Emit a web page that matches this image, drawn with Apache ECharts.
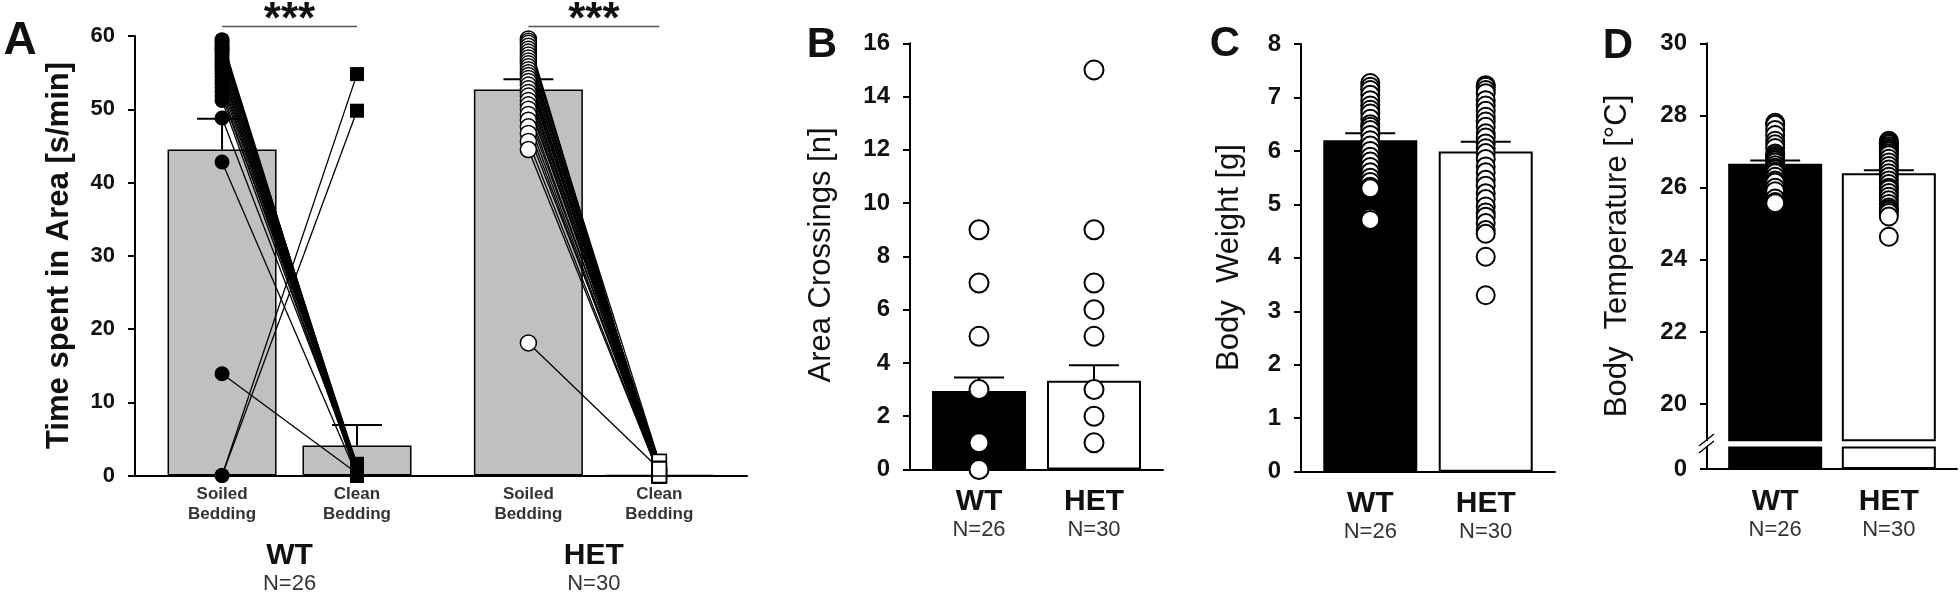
<!DOCTYPE html>
<html>
<head>
<meta charset="utf-8">
<style>
  html, body { margin: 0; padding: 0; background: #fff; }
  #chart { width: 1960px; height: 595px; }
</style>
<script src="https://cdn.jsdelivr.net/npm/echarts@6.0.0/dist/echarts.min.js"></script>
</head>
<body>
<div id="chart"></div>
<script>
var FONT = '"Liberation Sans", Arial, sans-serif'
var INK = '#111'

// ---- panel A: time spent in area (paired) ----
var posA = [1, 2, 3.27, 4.24]
var namesA = ['Soiled\nBedding', 'Clean\nBedding', 'Soiled\nBedding', 'Clean\nBedding']
var meanA = [44.5, 4.1, 52.7, 0]
var semA = [4.2, 2.8, 1.4, 0]
var groupPosA = [1.5, 3.755]
var groupNames = ['WT', 'HET']
var groupN = ['N=26', 'N=30']
var wtSoiled = [59.5, 59.2, 58.9, 58.6, 58.3, 58.0, 57.7, 57.3, 56.9, 56.5, 56.1, 55.7, 55.3,
  54.9, 54.5, 54.0, 53.5, 53.0, 52.4, 51.8, 51.2, 48.8, 42.8, 13.9, 0, 0]
var wtClean = [0.3, 0.8, 0, 1.2, 0.5, 0, 1.5, 0.2, 0.9, 0, 1.4, 0.6, 0,
  1.0, 0.4, 0, 1.3, 0.7, 0, 1.6, 0.2, 0.9, 0, 0.3, 54.8, 49.8]
var hetSoiled = [59.6, 59.3, 59.0, 58.6, 58.2, 57.8, 57.4, 57.0, 56.6, 56.2, 55.8, 55.4, 55.0, 54.6, 54.2,
  53.8, 53.3, 52.8, 52.3, 51.8, 51.2, 50.6, 50.0, 49.3, 48.5, 47.6, 46.7, 45.6, 44.5, 18.1]
var hetClean = [0, 0.4, 0, 1.9, 0, 0.6, 0, 1.2, 0, 0, 1.8, 0, 0.3, 0, 0,
  1.5, 0, 0, 0.8, 0, 0, 1.9, 0, 0.5, 0, 0, 1.0, 0, 0, 0.9]
var sigY = 61.3

// ---- panels B-D: WT vs HET ----
var posG = [1, 2]
var meanB = [2.95, 3.33], semB = [0.5, 0.58]
var crossWT = [9, 7, 5, 3, 1, 0]
var crossHET = [15, 9, 7, 6, 5, 3, 2, 1]

var meanC = [6.2, 5.99], semC = [0.13, 0.18]
var weightWT = [7.27, 7.2, 7.14, 7.05, 6.95, 6.85, 6.77, 6.7, 6.6, 6.5, 6.45, 6.39, 6.3, 6.2, 6.1, 6.0,
  5.89, 5.8, 5.7, 5.6, 5.5, 5.42, 5.33, 5.3, 4.75, 4.71]
var weightHET = [7.23, 7.2, 7.14, 7.08, 6.95, 6.85, 6.75, 6.64, 6.55, 6.45, 6.33, 6.25, 6.14, 6.05, 5.96,
  5.85, 5.71, 5.6, 5.46, 5.35, 5.21, 5.1, 4.96, 4.85, 4.77, 4.65, 4.52, 4.45, 4.02, 3.3]

var meanD = [26.66, 26.4], semD = [0.09, 0.08]
var tempWT = [27.8, 27.74, 27.6, 27.46, 27.3, 27.2, 27.1, 26.95, 26.9, 26.85, 26.8, 26.75, 26.7,
  26.62, 26.55, 26.5, 26.44, 26.4, 26.3, 26.2, 26.14, 26.0, 25.9, 25.7, 25.6, 25.57]
var tempHET = [27.3, 27.25, 27.23, 27.2, 27.15, 27.1, 27.05, 27.0, 26.95, 26.9, 26.8, 26.7, 26.6, 26.5, 26.4,
  26.3, 26.2, 26.1, 26.0, 25.95, 25.85, 25.75, 25.65, 25.55, 25.45, 25.4, 25.35, 25.3, 25.2, 24.64]

function nearest(arr, v) {
  var best = 0
  for (var i = 1; i < arr.length; i++) {
    if (Math.abs(arr[i] - v) < Math.abs(arr[best] - v)) best = i
  }
  return best
}

function errBar(params, api) {
  var x = api.value(0), m = api.value(1), s = api.value(2)
  if (!s) return
  var base = api.coord([x, m]), top = api.coord([x, m + s])
  var st = { stroke: '#000', lineWidth: 2 }
  return {
    type: 'group',
    children: [
      { type: 'line', shape: { x1: base[0], y1: base[1], x2: top[0], y2: top[1] }, style: st },
      { type: 'line', shape: { x1: top[0] - 25, y1: top[1], x2: top[0] + 25, y2: top[1] }, style: st }
    ]
  }
}

function sigBar(params, api) {
  var a = api.coord([api.value(0), api.value(2)])
  var b = api.coord([api.value(1), api.value(2)])
  return {
    type: 'group',
    children: [
      { type: 'line', shape: { x1: a[0], y1: a[1], x2: b[0], y2: b[1] },
        style: { stroke: '#555', lineWidth: 1.5 } },
      { type: 'text', x: (a[0] + b[0]) / 2, y: a[1] + 16,
        style: { text: '***', font: 'bold 44px ' + FONT, fill: INK, align: 'center', verticalAlign: 'bottom' } }
    ]
  }
}

function yAx(grid, min, max, interval, size, custom) {
  var ax = {
    type: 'value', gridIndex: grid, min: min, max: max,
    axisLine: { show: true, lineStyle: { color: '#000', width: 2 } },
    axisTick: { show: true, length: 7, lineStyle: { color: '#000', width: 2 } },
    axisLabel: { margin: 20, fontSize: size, fontWeight: 'bold', color: INK, fontFamily: FONT },
    splitLine: { show: false }
  }
  if (interval) ax.interval = interval
  if (custom) {
    ax.axisLabel.customValues = custom
    ax.axisTick.customValues = custom
  }
  return ax
}

var groupRich = {
  g: { fontSize: 30, fontWeight: 'bold', lineHeight: 30, color: INK, fontFamily: FONT },
  n: { fontSize: 22, lineHeight: 26, color: '#333', fontFamily: FONT }
}

function groupLabel(v) {
  var i = nearest(posG, v)
  return '{g|' + groupNames[i] + '}\n{n|' + groupN[i] + '}'
}

function xAxG(grid, showLabels) {
  return {
    type: 'value', gridIndex: grid, position: 'bottom', min: 0.4, max: 2.6, show: showLabels,
    axisLine: { show: true, onZero: false, lineStyle: { color: '#000', width: 2 } },
    axisTick: { show: false },
    splitLine: { show: false },
    axisLabel: { customValues: posG, margin: 17.5, formatter: groupLabel, rich: groupRich }
  }
}

function barItems(means) {
  return means.map(function (m, i) {
    return {
      value: [posG[i], m],
      itemStyle: i === 0
        ? { color: '#000', borderColor: '#000', borderWidth: 2 }
        : { color: '#fff', borderColor: '#000', borderWidth: 2 }
    }
  })
}

function pts(x, vals) {
  return vals.map(function (v) { return [x, v] })
}

function dots(xi, yi, data, size) {
  return {
    type: 'scatter', xAxisIndex: xi, yAxisIndex: yi, z: 4, data: data,
    symbol: 'circle', symbolSize: size,
    itemStyle: { color: '#fff', borderColor: '#000', borderWidth: 2, opacity: 1 }
  }
}

function errSeries(xi, yi, means, sems) {
  return {
    type: 'custom', xAxisIndex: xi, yAxisIndex: yi, z: 2, renderItem: errBar,
    data: means.map(function (m, i) { return [posG[i], m, sems[i]] })
  }
}

var chart = echarts.init(document.getElementById('chart'), null, { renderer: 'canvas' })

var option = {
  animation: false,
  backgroundColor: '#fff',
  textStyle: { fontFamily: FONT },
  grid: [
    { left: 135, top: 36, width: 612, height: 439.5, containLabel: false, outerBoundsMode: 'none' },
    { left: 910, top: 43.3, width: 253, height: 426.2, containLabel: false, outerBoundsMode: 'none' },
    { left: 1301, top: 44, width: 254, height: 427.7, containLabel: false, outerBoundsMode: 'none' },
    { left: 1707, top: 43.3, width: 250, height: 397, containLabel: false, outerBoundsMode: 'none' },
    { left: 1707, top: 447.5, width: 250, height: 21.5, containLabel: false, outerBoundsMode: 'none' }
  ],
  xAxis: [
    {
      type: 'value', gridIndex: 0, position: 'bottom', min: 0.355, max: 4.89,
      axisLine: { show: true, onZero: false, lineStyle: { color: '#000', width: 2 } },
      axisTick: { show: false }, splitLine: { show: false },
      axisLabel: {
        customValues: posA, margin: 8.5, fontSize: 17, fontWeight: 'bold', lineHeight: 20,
        color: '#333', fontFamily: FONT,
        formatter: function (v) { return namesA[nearest(posA, v)] }
      }
    },
    {
      type: 'value', gridIndex: 0, position: 'bottom', offset: 0, min: 0.355, max: 4.89,
      axisLine: { show: false, onZero: false }, axisTick: { show: false }, splitLine: { show: false },
      axisLabel: {
        customValues: groupPosA, margin: 65.5, rich: groupRich,
        formatter: function (v) {
          var i = nearest(groupPosA, v)
          return '{g|' + groupNames[i] + '}\n{n|' + groupN[i] + '}'
        }
      }
    },
    xAxG(1, true),
    xAxG(2, true),
    xAxG(3, false),
    xAxG(4, true)
  ],
  yAxis: [
    yAx(0, 0, 60, 10, 22),
    yAx(1, 0, 16, 2, 24),
    yAx(2, 0, 8, 1, 24),
    yAx(3, 19, 30, null, 24, [20, 22, 24, 26, 28, 30]),
    yAx(4, 0, 1, null, 24, [0])
  ],
  series: [
    // A
    {
      type: 'bar', xAxisIndex: 0, yAxisIndex: 0, z: 1, barWidth: 109,
      itemStyle: { color: '#c0c0c0', borderColor: '#000', borderWidth: 1.5 },
      data: posA.map(function (x, i) { return [x, meanA[i]] })
    },
    {
      type: 'custom', xAxisIndex: 0, yAxisIndex: 0, z: 2, renderItem: errBar,
      data: posA.map(function (x, i) { return [x, meanA[i], semA[i]] })
    },
    {
      type: 'lines', coordinateSystem: 'cartesian2d', xAxisIndex: 0, yAxisIndex: 0, z: 3,
      lineStyle: { color: '#000', width: 1.3, opacity: 1, curveness: 0 },
      data: wtSoiled.map(function (s, i) { return { coords: [[posA[0], s], [posA[1], wtClean[i]]] } })
        .concat(hetSoiled.map(function (s, i) { return { coords: [[posA[2], s], [posA[3], hetClean[i]]] } }))
    },
    {
      type: 'scatter', xAxisIndex: 0, yAxisIndex: 0, z: 4, symbol: 'circle', symbolSize: 15,
      itemStyle: { color: '#000', opacity: 1 }, data: pts(posA[0], wtSoiled)
    },
    {
      type: 'scatter', xAxisIndex: 0, yAxisIndex: 0, z: 4, symbol: 'rect', symbolSize: 14,
      itemStyle: { color: '#000', opacity: 1 }, data: pts(posA[1], wtClean)
    },
    {
      type: 'scatter', xAxisIndex: 0, yAxisIndex: 0, z: 4, symbol: 'circle', symbolSize: 16,
      itemStyle: { color: '#fff', borderColor: '#000', borderWidth: 1.5, opacity: 1 }, data: pts(posA[2], hetSoiled)
    },
    {
      type: 'scatter', xAxisIndex: 0, yAxisIndex: 0, z: 4, symbol: 'rect', symbolSize: 14,
      itemStyle: { color: '#fff', borderColor: '#000', borderWidth: 1.5, opacity: 1 }, data: pts(posA[3], hetClean)
    },
    {
      type: 'custom', xAxisIndex: 0, yAxisIndex: 0, z: 5, renderItem: sigBar,
      data: [[posA[0], posA[1], sigY], [posA[2], posA[3], sigY]]
    },
    // B
    { type: 'bar', xAxisIndex: 2, yAxisIndex: 1, z: 1, barWidth: 94, data: barItems(meanB) },
    errSeries(2, 1, meanB, semB),
    dots(2, 1, pts(posG[0], crossWT), 19),
    dots(2, 1, pts(posG[1], crossHET), 19),
    // C
    { type: 'bar', xAxisIndex: 3, yAxisIndex: 2, z: 1, barWidth: 94, data: barItems(meanC) },
    errSeries(3, 2, meanC, semC),
    dots(3, 2, pts(posG[0], weightWT), 18),
    dots(3, 2, pts(posG[1], weightHET), 18),
    // D (broken axis: upper and lower part)
    { type: 'bar', xAxisIndex: 4, yAxisIndex: 3, z: 1, barWidth: 94, data: barItems(meanD) },
    { type: 'bar', xAxisIndex: 5, yAxisIndex: 4, z: 1, barWidth: 94, data: barItems(meanD) },
    errSeries(4, 3, meanD, semD),
    dots(4, 3, pts(posG[0], tempWT), 18),
    dots(4, 3, pts(posG[1], tempHET), 18)
  ],
  graphic: [
    { type: 'text', x: 20, y: 41, style: { text: 'A', font: 'bold 46px ' + FONT, fill: INK, align: 'center', verticalAlign: 'middle' } },
    { type: 'text', x: 822, y: 45, style: { text: 'B', font: 'bold 42px ' + FONT, fill: INK, align: 'center', verticalAlign: 'middle' } },
    { type: 'text', x: 1225, y: 44, style: { text: 'C', font: 'bold 42px ' + FONT, fill: INK, align: 'center', verticalAlign: 'middle' } },
    { type: 'text', x: 1618, y: 46, style: { text: 'D', font: 'bold 42px ' + FONT, fill: INK, align: 'center', verticalAlign: 'middle' } },
    { type: 'text', x: 59.5, y: 255.5, rotation: Math.PI / 2,
      style: { text: 'Time spent in Area [s/min]', font: 'bold 31px ' + FONT, fill: INK, align: 'center', verticalAlign: 'middle' } },
    { type: 'text', x: 821.5, y: 255, rotation: Math.PI / 2,
      style: { text: 'Area Crossings [n]', font: '31px ' + FONT, fill: INK, align: 'center', verticalAlign: 'middle' } },
    { type: 'text', x: 1229, y: 257.5, rotation: Math.PI / 2,
      style: { text: 'Body  Weight [g]', font: '31px ' + FONT, fill: INK, align: 'center', verticalAlign: 'middle' } },
    { type: 'text', x: 1617, y: 256, rotation: Math.PI / 2,
      style: { text: 'Body  Temperature [°C]', font: '31px ' + FONT, fill: INK, align: 'center', verticalAlign: 'middle' } },
    // axis break marks
    { type: 'line', shape: { x1: 1699, y1: 446, x2: 1714, y2: 434 }, style: { stroke: '#000', lineWidth: 1.5 } },
    { type: 'line', shape: { x1: 1699, y1: 453, x2: 1714, y2: 441 }, style: { stroke: '#000', lineWidth: 1.5 } }
  ]
}

chart.setOption(option)
</script>
</body>
</html>
